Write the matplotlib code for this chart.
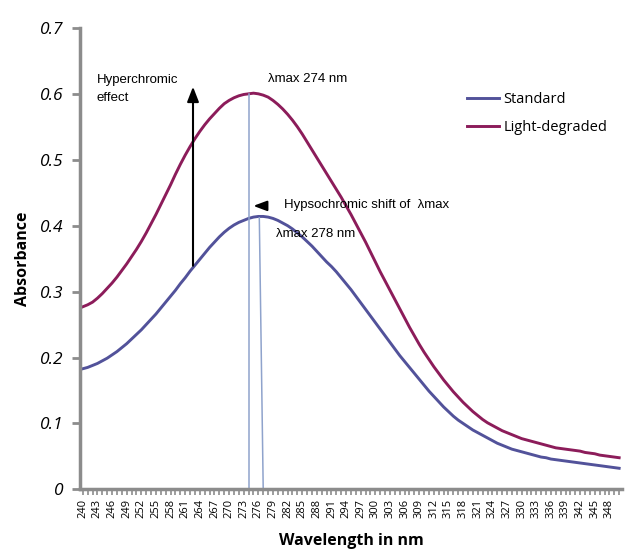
import matplotlib
matplotlib.use("Agg")
from matplotlib import pyplot as plt

wavelengths = list(range(240, 351))

standard = [
    0.183, 0.185, 0.188, 0.191, 0.195, 0.199, 0.204, 0.209, 0.215, 0.221,
    0.228, 0.235, 0.242, 0.250, 0.258, 0.266, 0.275, 0.284, 0.293, 0.302,
    0.312, 0.321, 0.331, 0.340, 0.349, 0.358, 0.367, 0.375, 0.383, 0.390,
    0.396, 0.401, 0.405, 0.408, 0.411, 0.413, 0.414, 0.414, 0.413, 0.411,
    0.408, 0.404, 0.400, 0.395, 0.389, 0.383, 0.376, 0.369, 0.361, 0.353,
    0.345, 0.338, 0.330, 0.321, 0.312, 0.303, 0.293, 0.283, 0.273, 0.263,
    0.253, 0.243, 0.233, 0.223, 0.213, 0.203, 0.194, 0.185, 0.176, 0.167,
    0.158, 0.149, 0.141, 0.133, 0.125, 0.118, 0.111, 0.105, 0.100, 0.095,
    0.090, 0.086, 0.082, 0.078, 0.074, 0.070, 0.067, 0.064, 0.061, 0.059,
    0.057, 0.055, 0.053, 0.051, 0.049, 0.048, 0.046, 0.045, 0.044, 0.043,
    0.042, 0.041, 0.040, 0.039, 0.038, 0.037, 0.036, 0.035, 0.034, 0.033,
    0.032,
]

degraded = [
    0.277, 0.280, 0.284, 0.290, 0.297, 0.305, 0.313, 0.322, 0.332, 0.342,
    0.353, 0.364, 0.376, 0.389, 0.403, 0.417, 0.432, 0.447, 0.462, 0.478,
    0.493, 0.507, 0.520, 0.532, 0.543, 0.553, 0.562, 0.570, 0.578, 0.585,
    0.590, 0.594, 0.597, 0.599, 0.600, 0.601, 0.600, 0.598, 0.595, 0.590,
    0.584, 0.577, 0.569, 0.560, 0.550, 0.539, 0.527, 0.515, 0.503, 0.491,
    0.479, 0.467, 0.455, 0.443, 0.430, 0.417, 0.403, 0.389, 0.375, 0.360,
    0.345, 0.330, 0.316, 0.302, 0.288, 0.274, 0.260, 0.246, 0.233, 0.220,
    0.208, 0.197, 0.186, 0.176, 0.166, 0.157, 0.148, 0.140, 0.132, 0.125,
    0.118, 0.112, 0.106, 0.101, 0.097, 0.093, 0.089, 0.086, 0.083, 0.080,
    0.077, 0.075, 0.073, 0.071, 0.069, 0.067, 0.065, 0.063, 0.062, 0.061,
    0.060, 0.059, 0.058, 0.056, 0.055, 0.054, 0.052, 0.051, 0.050, 0.049,
    0.048,
]

tick_labels = list(range(240, 349, 3))
y_ticks = [0, 0.1, 0.2, 0.3, 0.4, 0.5, 0.6, 0.7]

blue = "#52529a"
purple = "#8c1c5a"
guide = "#8fa3cc"
spine_col = "#8c8c8c"

fig = plt.figure(figsize=(6.29, 5.58), dpi=100)
ax = fig.add_axes([0.127, 0.123, 0.862, 0.827])

ax.plot(wavelengths, standard, color=blue, lw=2.1, label="Standard")
ax.plot(wavelengths, degraded, color=purple, lw=2.1, label="Light-degraded")

# lambda max guide lines
ax.plot([274, 274], [0, 0.600], color=guide, lw=1.1)
ax.plot([277.0, 276.2], [0, 0.412], color=guide, lw=1.1)

# hyperchromic arrow
ax.annotate("", xy=(262.6, 0.615), xytext=(262.6, 0.335),
            arrowprops=dict(arrowstyle="-|>,head_width=0.35,head_length=0.9",
                            color="black", lw=1.5))
# hypsochromic arrow
ax.annotate("", xy=(274.4, 0.43), xytext=(278.0, 0.43),
            arrowprops=dict(arrowstyle="-|>,head_width=0.3,head_length=0.8",
                            color="black", lw=1.5))

tf = dict(family="Liberation Sans", fontsize=9.5, color="black")
ax.text(242.9, 0.607, "Hyperchromic\neffect", va="center", ha="left",
        linespacing=1.7, **tf)
ax.text(278.0, 0.623, "λmax 274 nm", va="center", ha="left", **tf)
ax.text(281.2, 0.431, "Hypsochromic shift of  λmax", va="center", ha="left", **tf)
ax.text(279.7, 0.388, "λmax 278 nm", va="center", ha="left", **tf)

ax.set_xlim(239.4, 350.6)
ax.set_ylim(0, 0.7)

ax.set_xticks(tick_labels)
ax.set_xticklabels([str(t) for t in tick_labels], rotation=90,
                   family="Open Sans", fontsize=8)
ax.set_xticks(wavelengths, minor=True)
ax.tick_params(axis="x", which="both", direction="out", length=4,
               width=1.2, color=spine_col, pad=3)

ax.set_yticks(y_ticks)
ax.set_yticklabels(["0", "0.1", "0.2", "0.3", "0.4", "0.5", "0.6", "0.7"],
                   family="Open Sans", style="italic", fontsize=12.5)
ax.tick_params(axis="y", direction="out", length=6, width=2,
               color=spine_col, pad=6)

for s in ["top", "right"]:
    ax.spines[s].set_visible(False)
for s in ["left", "bottom"]:
    ax.spines[s].set_color(spine_col)
    ax.spines[s].set_linewidth(2.5)

ax.set_xlabel("Wavelength in nm", family="Open Sans", fontweight="bold",
              fontsize=11.5, labelpad=11)
ax.set_ylabel("Absorbance", family="Open Sans", fontweight="bold",
              fontsize=11.5, labelpad=6)

ax.legend(loc="upper left", bbox_to_anchor=(0.69, 0.89), frameon=False,
          prop={"family": "Open Sans", "size": 10.5}, handlelength=2.2,
          handletextpad=0.3, labelspacing=0.9)

fig.savefig("out.png", dpi=100)
